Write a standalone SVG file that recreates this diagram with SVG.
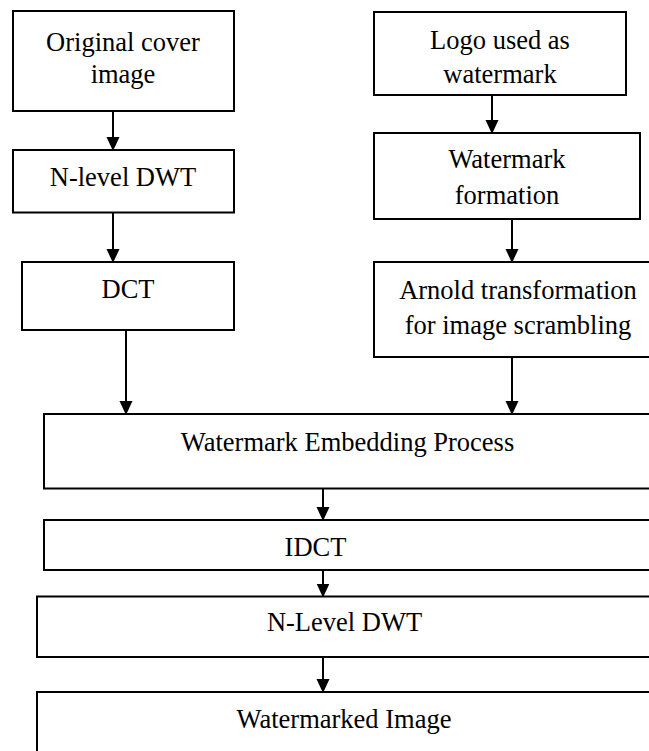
<svg xmlns="http://www.w3.org/2000/svg" width="649" height="751" viewBox="0 0 649 751">
<style>
.box{fill:#fff;stroke:#000;stroke-width:2}
.t{font-family:'Liberation Serif','DejaVu Serif',serif;font-size:26.5px;fill:#000;text-anchor:middle}
.c{stroke:#000;stroke-width:2;fill:none;marker-end:url(#ah)}
</style>
<defs>
<marker id="ah" markerUnits="userSpaceOnUse" markerWidth="14" markerHeight="15" refX="13" refY="6.5" orient="auto" viewBox="0 0 14 13">
<path d="M0,0 L14,6.5 L0,13 Z" fill="#000"/>
</marker>
</defs>
<rect width="649" height="751" fill="#fff"/>
<g id="connectors">
<path class="c" d="M113,111 V150"/>
<path class="c" d="M113,213 V262"/>
<path class="c" d="M492,95 V133"/>
<path class="c" d="M512,219 V262"/>
<path class="c" d="M126,330 V414"/>
<path class="c" d="M512,357 V414"/>
<path class="c" d="M323,488.5 V520"/>
<path class="c" d="M323,570 V596.5"/>
<path class="c" d="M323,657 V692"/>
</g>
<g id="original">
<rect class="box" x="13" y="11" width="221" height="100"/>
<text class="t" x="123" y="51">Original cover</text>
<text class="t" x="123" y="83">image</text>
</g>
<g id="dwt1">
<rect class="box" x="13" y="150" width="221" height="62.5"/>
<text class="t" x="123" y="186">N-level DWT</text>
</g>
<g id="dct">
<rect class="box" x="22" y="262" width="212" height="68"/>
<text class="t" x="128" y="298">DCT</text>
</g>
<g id="logo">
<rect class="box" x="374" y="12" width="252" height="83"/>
<text class="t" x="500" y="49">Logo used as</text>
<text class="t" x="500" y="83">watermark</text>
</g>
<g id="formation">
<rect class="box" x="374" y="133" width="266" height="86"/>
<text class="t" x="507" y="168">Watermark</text>
<text class="t" x="507" y="204">formation</text>
</g>
<g id="arnold">
<rect class="box" x="374" y="262" width="290" height="95"/>
<text class="t" x="518" y="299">Arnold transformation</text>
<text class="t" x="518" y="334">for image scrambling</text>
</g>
<g id="embedding">
<rect class="box" x="44" y="414" width="620" height="74.5"/>
<text class="t" x="347.5" y="451">Watermark Embedding Process</text>
</g>
<g id="idct">
<rect class="box" x="44" y="520" width="620" height="50"/>
<text class="t" x="315.5" y="556">IDCT</text>
</g>
<g id="dwt2">
<rect class="box" x="37" y="596.5" width="627" height="60.5"/>
<text class="t" x="344.5" y="631">N-Level DWT</text>
</g>
<g id="watermarked">
<rect class="box" x="37" y="692" width="627" height="70"/>
<text class="t" x="344" y="728">Watermarked Image</text>
</g>
</svg>
